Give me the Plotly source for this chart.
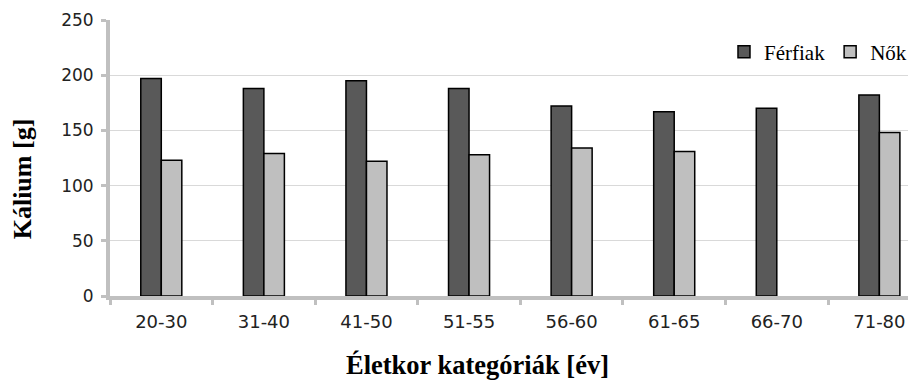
import plotly.graph_objects as go

categories = ["20-30", "31-40", "41-50", "51-55", "56-60", "61-65", "66-70", "71-80"]
ferfiak = [197, 188, 195, 188, 172, 167, 170, 182]
nok = [123, 129, 122, 128, 134, 131, None, 148]
y_ticks = [0, 50, 100, 150, 200, 250]

SERIF = "Liberation Serif"
SANS = "DejaVu Sans"

fig = go.Figure()
fig.add_trace(go.Bar(name="Férfiak", x=categories, y=ferfiak,
                     marker=dict(color="#595959", line=dict(color="#000000", width=1.5))))
fig.add_trace(go.Bar(name="Nők", x=categories, y=nok,
                     marker=dict(color="#bfbfbf", line=dict(color="#000000", width=1.5))))

fig.update_layout(
    width=904, height=373,
    margin=dict(l=102, r=0, t=12, b=85, pad=0),
    paper_bgcolor="white", plot_bgcolor="white",
    barmode="group", bargap=0.6, bargroupgap=0,
    font=dict(family=SERIF, size=14, color="#000000"),
    legend=dict(orientation="h", x=1.005, xanchor="right", y=0.884, yanchor="middle",
                font=dict(family=SERIF, size=21, color="#000000"),
                bgcolor="rgba(0,0,0,0)", itemwidth=30, tracegroupgap=0),
    showlegend=True,
)
fig.update_xaxes(
    type="category", range=[-0.5, 7.279],
    showline=True, linecolor="#c0c0c0", linewidth=4,
    ticks="outside", tickson="boundaries", ticklen=5, tickcolor="#c0c0c0", tickwidth=3,
    ticklabelstandoff=6,
    showgrid=False, tickfont=dict(family=SANS, size=18, color="#222222"),
)
fig.update_yaxes(
    range=[0, 250], tickvals=y_ticks,
    showline=True, linecolor="#c0c0c0", linewidth=4,
    ticks="outside", ticklen=5, tickcolor="#c0c0c0", tickwidth=3,
    ticklabelstandoff=4,
    showgrid=True, gridcolor="#d9d9d9", gridwidth=1,
    zeroline=False, tickfont=dict(family=SANS, size=17, color="#222222"),
)
fig.add_annotation(text="<b>Kálium [g]</b>", xref="paper", yref="paper",
                   x=-0.1086, y=0.424, textangle=-90, showarrow=False,
                   font=dict(family=SERIF, size=26, color="#000000"),
                   xanchor="center", yanchor="middle")
fig.add_annotation(text="<b>Életkor kategóriák [év]</b>", xref="paper", yref="paper",
                   x=0.4605, y=-0.25, showarrow=False,
                   font=dict(family=SERIF, size=26.5, color="#000000"),
                   xanchor="center", yanchor="middle")

fig.write_html("out.html")
